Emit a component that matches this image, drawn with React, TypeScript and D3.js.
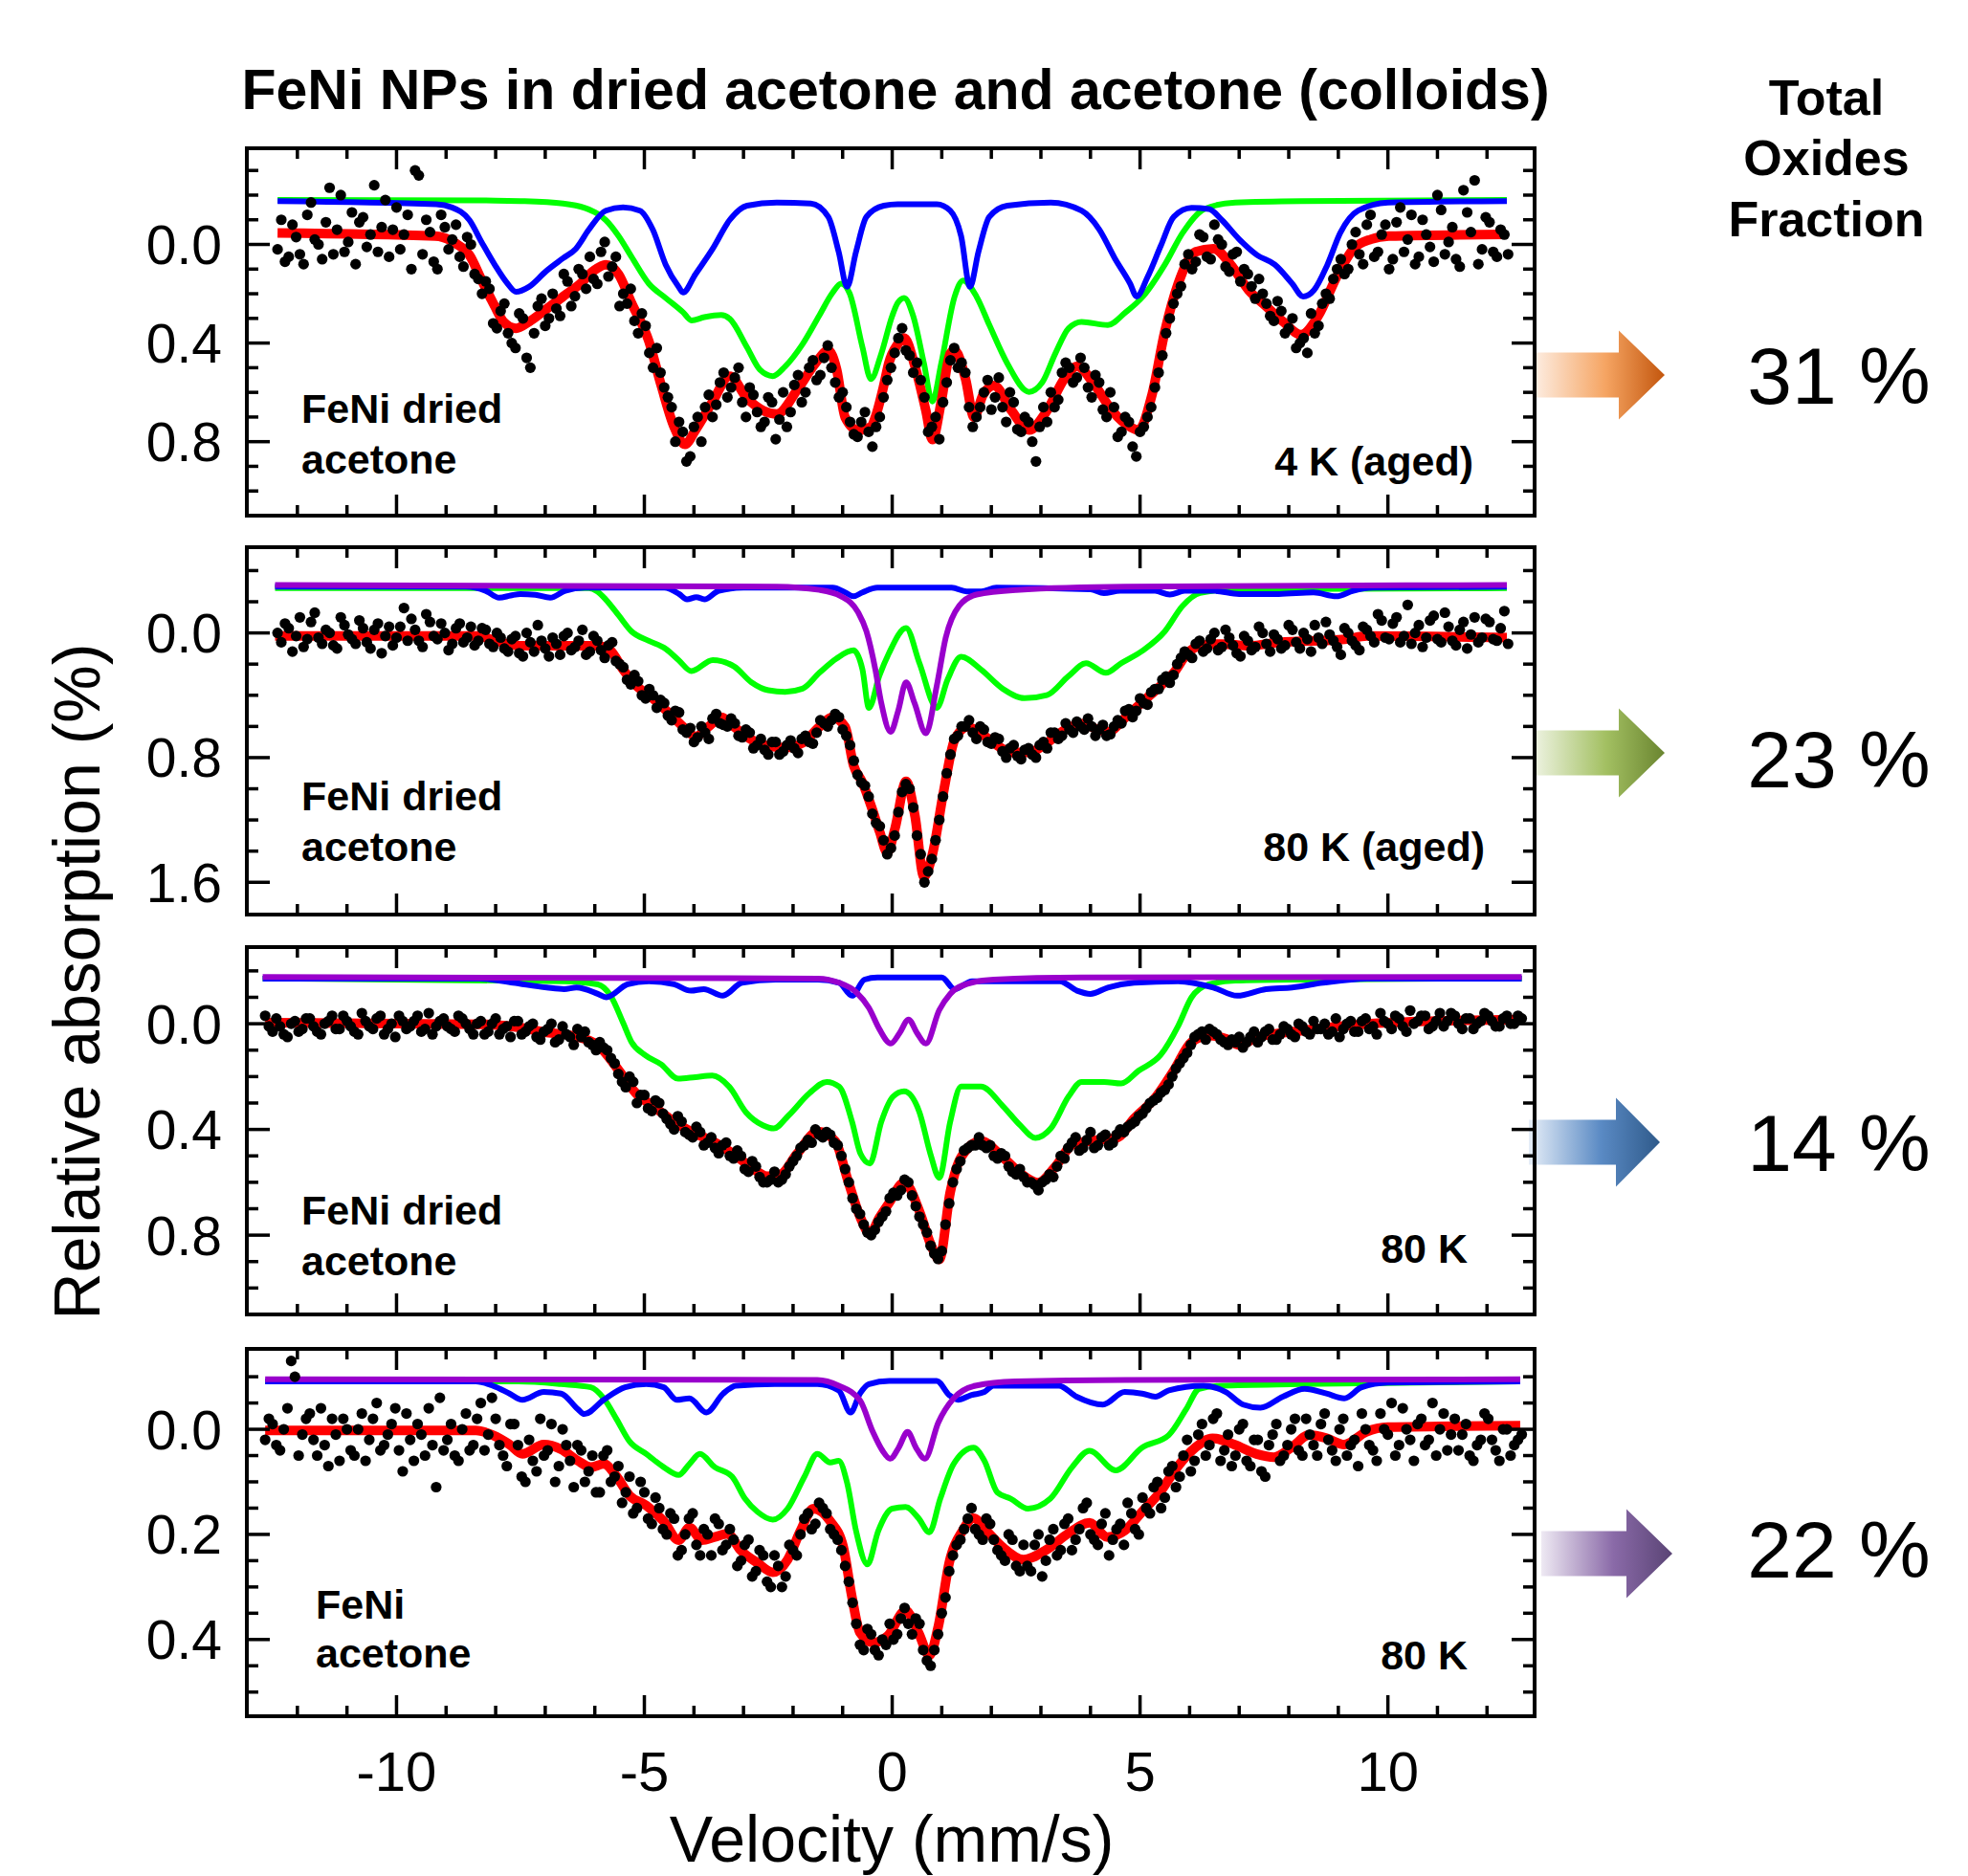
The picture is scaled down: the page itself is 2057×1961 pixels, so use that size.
import React from "react";
import * as d3 from "d3";

// Mössbauer spectra of FeNi NPs, four stacked panels sharing a velocity axis

const WIDTH = 2057,
  HEIGHT = 1961;
const FONT = "Liberation Sans, Arial, Helvetica, sans-serif";

const PLOT_LEFT = 258,
  PLOT_RIGHT = 1604,
  PANEL_H = 384;
const VEL_DOMAIN = [-13.02, 12.96];

const xMinorTicks = d3.range(-12, 13, 1);
const xMajorTicks = [-10, -5, 0, 5, 10];
const xTickLabels = ["-10", "-5", "0", "5", "10"];

const oxideFractions = ["31 %", "23 %", "14 %", "22 %"];

// ---------- panel 1 : FeNi dried acetone, 4 K (aged) ----------
const p1Points = [
  0.02, 0.07, -0.08, 0.04, -0.12, -0.02, 0.06, -0.23, -0.06, 0.03,
  -0.13, -0.09, 0.01, -0.24, -0.07, 0.05, -0.15, -0.04, 0.1, -0.28,
  -0.1, 0.07, -0.12, 0.02, -0.08, 0.09, 0.0, 0.14, 0.15, 0.32,
  0.27, 0.36, 0.42, 0.3, 0.5, 0.25, 0.33, 0.2, 0.29, 0.15,
  0.21, 0.12, 0.05, 0.16, -0.01, 0.09, 0.25, 0.24, 0.31, 0.28,
  0.44, 0.42, 0.58, 0.66, 0.72, 0.88, 0.74, 0.8, 0.61, 0.65,
  0.52, 0.58, 0.5, 0.7, 0.61, 0.74, 0.62, 0.79, 0.6, 0.68,
  0.53, 0.6, 0.47, 0.53, 0.41, 0.56, 0.6, 0.72, 0.78, 0.68,
  0.82, 0.7, 0.55, 0.44, 0.34, 0.45, 0.48, 0.62, 0.74, 0.79,
  0.56, 0.42, 0.48, 0.66, 0.7, 0.6, 0.67, 0.54, 0.72, 0.64,
  0.76, 0.72, 0.88, 0.66, 0.6, 0.63, 0.48, 0.56, 0.46, 0.58,
  0.53, 0.67, 0.6, 0.78, 0.7, 0.82, 0.76, 0.7, 0.58, 0.45,
  0.3, 0.2, 0.08, 0.1, -0.04, 0.05, -0.08, 0.0, 0.11, 0.03,
  0.1, 0.17, 0.14, 0.24, 0.31, 0.27, 0.34, 0.42, 0.38, 0.28,
  0.33, 0.2, 0.14, 0.06, 0.1, -0.05, 0.08, -0.12, 0.03, -0.08,
  0.06, -0.15, -0.02, 0.08, -0.1, 0.01, -0.2, 0.04, -0.07, 0.09,
  -0.13, -0.26, 0.02, -0.09, 0.05, -0.04,
];
// second run of channels, offset by half a step
const p1PointsB = [
  -0.1, 0.05, -0.03, 0.08, -0.17, 0.0, -0.09, 0.04, -0.2, -0.01,
  0.08, -0.11, -0.04, 0.03, -0.18, -0.06, 0.02, -0.12, -0.3, 0.04,
  -0.05, 0.1, -0.07, -0.02, 0.05, -0.03, 0.12, 0.2, 0.18, 0.34,
  0.24, 0.4, 0.28, 0.46, 0.36, 0.22, 0.3, 0.26, 0.12, 0.25,
  0.1, 0.18, 0.14, 0.03, 0.13, 0.05, 0.2, 0.18, 0.36, 0.33,
  0.5, 0.52, 0.62, 0.8, 0.76, 0.86, 0.7, 0.66, 0.7, 0.56,
  0.62, 0.54, 0.64, 0.58, 0.68, 0.72, 0.64, 0.71, 0.74, 0.57,
  0.64, 0.5, 0.55, 0.46, 0.5, 0.62, 0.66, 0.77, 0.72, 0.76,
  0.74, 0.62, 0.5, 0.38, 0.43, 0.52, 0.55, 0.76, 0.7, 0.64,
  0.47, 0.5, 0.52, 0.74, 0.66, 0.55, 0.62, 0.66, 0.6, 0.75,
  0.7, 0.8, 0.74, 0.72, 0.66, 0.52, 0.5, 0.54, 0.5, 0.62,
  0.56, 0.7, 0.66, 0.76, 0.72, 0.86, 0.74, 0.66, 0.52, 0.36,
  0.24, 0.17, 0.04, 0.07, -0.03, 0.06, -0.02, 0.09, 0.04, 0.15,
  0.12, 0.22, 0.2, 0.29, 0.23, 0.36, 0.3, 0.4, 0.44, 0.36,
  0.24, 0.22, 0.1, 0.12, 0.0, 0.04, -0.08, 0.05, -0.04, 0.1,
  -0.09, 0.03, -0.12, 0.05, -0.04, 0.07, -0.14, -0.01, 0.06, -0.22,
  -0.05, 0.08, -0.11, 0.03, -0.06, 0.04,
];
const p1Fit = [
  [-12.4, -0.047], [-9.22, -0.034], [-8.79, -0.002], [-8.53, 0.043], [-8.28, 0.146],
  [-8.02, 0.25], [-7.84, 0.314], [-7.59, 0.34], [-7.33, 0.314], [-6.98, 0.263],
  [-6.64, 0.211], [-6.29, 0.159], [-6.03, 0.108], [-5.78, 0.082], [-5.52, 0.121],
  [-5.26, 0.237], [-4.91, 0.392], [-4.66, 0.572], [-4.4, 0.74], [-4.18, 0.811],
  [-3.97, 0.753], [-3.62, 0.637], [-3.28, 0.534], [-2.93, 0.624], [-2.59, 0.675],
  [-2.33, 0.688], [-1.9, 0.585], [-1.55, 0.482], [-1.29, 0.43], [-1.12, 0.508],
  [-0.95, 0.701], [-0.69, 0.753], [-0.43, 0.74], [-0.34, 0.7], [-0.17, 0.572],
  [-0.07, 0.482], [0.11, 0.405], [0.24, 0.379], [0.46, 0.495], [0.68, 0.675],
  [0.81, 0.792], [0.99, 0.637], [1.17, 0.443], [1.26, 0.43], [1.48, 0.546],
  [1.65, 0.701], [1.83, 0.611], [2.05, 0.572], [2.41, 0.675], [2.76, 0.753],
  [3.12, 0.675], [3.47, 0.546], [3.73, 0.495], [4.09, 0.572], [4.44, 0.675],
  [4.8, 0.74], [4.97, 0.753], [5.24, 0.611], [5.5, 0.353], [5.77, 0.159],
  [6.12, 0.03], [6.48, 0.017], [6.83, 0.082], [7.19, 0.185], [7.54, 0.25],
  [7.89, 0.314], [8.25, 0.366], [8.6, 0.288], [8.96, 0.134], [9.31, 0.017],
  [9.66, -0.021], [10.02, -0.034], [12.4, -0.041],
];
const p1Blue = [
  [-12.4, -0.176], [-9.2, -0.163], [-8.88, -0.15], [-8.53, -0.099], [-8.28, -0.008],
  [-8.02, 0.082], [-7.76, 0.159], [-7.59, 0.192], [-7.33, 0.172], [-6.98, 0.108],
  [-6.64, 0.056], [-6.38, 0.017], [-6.12, -0.06], [-5.78, -0.137], [-5.43, -0.15],
  [-5.09, -0.137], [-4.83, -0.06], [-4.57, 0.082], [-4.31, 0.172], [-4.22, 0.195],
  [-3.97, 0.121], [-3.62, 0.017], [-3.28, -0.099], [-2.93, -0.157], [-2.33, -0.17],
  [-1.64, -0.166], [-1.29, -0.112], [-1.08, 0.03], [-0.91, 0.172], [-0.73, 0.03],
  [-0.52, -0.112], [-0.17, -0.157], [0.11, -0.163], [0.9, -0.163], [1.17, -0.137],
  [1.39, -0.034], [1.57, 0.172], [1.74, 0.03], [1.96, -0.112], [2.32, -0.157],
  [3.2, -0.17], [3.82, -0.137], [4.18, -0.06], [4.49, 0.056], [4.8, 0.159],
  [4.93, 0.211], [5.15, 0.133], [5.42, 0.005], [5.68, -0.112], [6.04, -0.148],
  [6.39, -0.144], [6.65, -0.099], [7.0, -0.021], [7.36, 0.043], [7.72, 0.082],
  [8.07, 0.159], [8.29, 0.211], [8.51, 0.185], [8.78, 0.082], [9.04, -0.047],
  [9.4, -0.137], [10.0, -0.17], [12.4, -0.176],
];
const p1Green = [
  [-12.4, -0.18], [-8.0, -0.178], [-7.5, -0.176], [-6.64, -0.166], [-6.2, -0.148],
  [-5.95, -0.125], [-5.78, -0.099], [-5.52, -0.034], [-5.26, 0.05], [-4.91, 0.159],
  [-4.57, 0.217], [-4.22, 0.275], [-4.05, 0.308], [-3.79, 0.295], [-3.45, 0.286],
  [-3.28, 0.301], [-2.93, 0.417], [-2.67, 0.508], [-2.41, 0.534], [-2.16, 0.495],
  [-1.81, 0.405], [-1.47, 0.288], [-1.21, 0.198], [-1.03, 0.159], [-0.86, 0.198],
  [-0.6, 0.417], [-0.43, 0.546], [-0.22, 0.443], [0.0, 0.29], [0.11, 0.237],
  [0.24, 0.217], [0.42, 0.288], [0.64, 0.482], [0.81, 0.637], [0.99, 0.482],
  [1.26, 0.211], [1.43, 0.146], [1.7, 0.211], [1.96, 0.327], [2.32, 0.482],
  [2.76, 0.598], [3.03, 0.559], [3.29, 0.443], [3.56, 0.34], [3.82, 0.314],
  [4.35, 0.327], [4.71, 0.275], [5.06, 0.211], [5.5, 0.082], [5.86, -0.047],
  [6.3, -0.144], [6.92, -0.17], [8.25, -0.176], [12.4, -0.18],
];

// ---------- panel 2 : FeNi dried acetone, 80 K (aged) ----------
const p2Points = [
  0.0, -0.06, 0.12, -0.1, 0.04, -0.13, 0.07, 0.0, 0.1, -0.05,
  0.04, -0.08, 0.06, -0.02, 0.13, -0.04, 0.03, -0.16, -0.09, 0.05,
  -0.12, 0.02, -0.06, 0.11, -0.03, 0.06, -0.04, 0.05, -0.02, 0.09,
  0.03, 0.12, 0.02, 0.15, 0.06, -0.05, 0.1, 0.03, 0.14, 0.0,
  0.09, -0.02, 0.12, 0.05, 0.16, 0.06, 0.2, 0.3, 0.27, 0.4,
  0.36, 0.48, 0.45, 0.56, 0.51, 0.64, 0.7, 0.6, 0.68, 0.52,
  0.59, 0.55, 0.66, 0.62, 0.74, 0.68, 0.78, 0.7, 0.76, 0.69,
  0.77, 0.66, 0.71, 0.56, 0.6, 0.52, 0.62, 0.72, 0.91, 0.98,
  1.16, 1.24, 1.42, 1.3, 1.02, 1.0, 1.3, 1.6, 1.45, 1.2,
  0.9, 0.68, 0.6, 0.56, 0.68, 0.62, 0.71, 0.68, 0.8, 0.72,
  0.81, 0.74, 0.8, 0.7, 0.64, 0.68, 0.58, 0.64, 0.6, 0.55,
  0.66, 0.59, 0.65, 0.56, 0.5, 0.54, 0.42, 0.46, 0.36, 0.3,
  0.32, 0.2, 0.12, 0.16, 0.05, 0.1, 0.0, 0.09, 0.03, 0.13,
  0.02, 0.11, -0.04, 0.07, 0.01, 0.1, -0.05, 0.06, 0.0, 0.12,
  0.03, -0.07, 0.05, 0.14, 0.0, 0.08, -0.04, 0.02, -0.12, 0.03,
  -0.06, 0.06, -0.18, 0.0, 0.09, -0.08, 0.04, -0.13, 0.05, -0.02,
  0.1, -0.1, 0.03, -0.07, 0.05, -0.14,
];
const p2PointsB = [
  0.06, -0.03, 0.02, 0.09, -0.07, 0.03, -0.02, 0.08, -0.1, 0.01,
  0.07, -0.03, 0.1, -0.06, 0.02, 0.08, -0.04, 0.05, -0.02, 0.09,
  -0.07, 0.04, 0.0, 0.07, -0.06, 0.03, 0.08, -0.03, 0.07, 0.0,
  0.1, 0.04, 0.13, 0.0, 0.12, 0.05, 0.15, 0.07, 0.02, 0.11,
  0.05, 0.14, 0.02, 0.11, 0.08, 0.18, 0.22, 0.33, 0.31, 0.42,
  0.4, 0.43, 0.53, 0.5, 0.62, 0.61, 0.67, 0.64, 0.55, 0.58,
  0.6, 0.58, 0.67, 0.64, 0.72, 0.75, 0.7, 0.78, 0.72, 0.74,
  0.68, 0.7, 0.64, 0.58, 0.56, 0.54, 0.66, 0.82, 0.96, 1.05,
  1.22, 1.33, 1.38, 1.15, 0.97, 1.12, 1.42, 1.53, 1.33, 1.05,
  0.78, 0.66, 0.6, 0.64, 0.6, 0.7, 0.67, 0.76, 0.74, 0.79,
  0.75, 0.78, 0.72, 0.74, 0.64, 0.66, 0.62, 0.57, 0.62, 0.6,
  0.62, 0.66, 0.6, 0.58, 0.49, 0.5, 0.45, 0.38, 0.36, 0.28,
  0.27, 0.16, 0.14, 0.07, 0.12, 0.04, 0.11, -0.02, 0.08, 0.15,
  0.05, 0.09, 0.0, 0.12, 0.04, 0.08, -0.02, 0.1, 0.04, -0.05,
  0.07, 0.01, 0.09, -0.03, 0.05, 0.11, -0.02, 0.06, -0.08, 0.04,
  -0.1, 0.02, 0.07, -0.05, 0.03, -0.11, 0.06, -0.04, 0.08, -0.07,
  0.01, 0.06, -0.09, 0.04, -0.03, 0.07,
];
const p2Fit = [
  [-12.45, 0.02], [-8.36, 0.02], [-8.0, 0.051], [-7.5, 0.082], [-5.95, 0.082],
  [-5.69, 0.112], [-5.43, 0.235], [-5.17, 0.337], [-4.91, 0.399], [-4.48, 0.521],
  [-4.14, 0.624], [-3.97, 0.665], [-3.71, 0.603], [-3.45, 0.541], [-3.19, 0.603],
  [-2.84, 0.685], [-2.5, 0.726], [-2.16, 0.736], [-1.81, 0.706], [-1.47, 0.603],
  [-1.21, 0.541], [-0.95, 0.603], [-0.78, 0.849], [-0.6, 0.96], [-0.42, 1.115],
  [-0.25, 1.279], [-0.1, 1.41], [0.06, 1.25], [0.28, 0.952], [0.46, 1.176],
  [0.64, 1.565], [0.81, 1.422], [1.04, 1.013], [1.26, 0.685], [1.52, 0.603],
  [1.79, 0.644], [2.05, 0.706], [2.41, 0.767], [2.76, 0.767], [3.12, 0.706],
  [3.47, 0.624], [3.82, 0.582], [4.18, 0.624], [4.35, 0.634], [4.71, 0.541],
  [5.06, 0.44], [5.42, 0.337], [5.68, 0.256], [5.95, 0.133], [6.21, 0.082],
  [6.65, 0.071], [7.19, 0.082], [7.8, 0.061], [9.13, 0.041], [9.58, 0.02],
  [12.4, 0.03],
];
const p2Blue = [
  [-12.45, -0.297], [-8.6, -0.297], [-8.2, -0.27], [-7.93, -0.226], [-7.7, -0.24],
  [-7.5, -0.25], [-7.2, -0.245], [-6.9, -0.226], [-6.6, -0.27], [-6.2, -0.29],
  [-4.6, -0.29], [-4.3, -0.25], [-4.14, -0.215], [-3.95, -0.23], [-3.79, -0.215],
  [-3.5, -0.27], [-3.0, -0.29], [-1.2, -0.29], [-0.95, -0.26], [-0.78, -0.235],
  [-0.6, -0.26], [-0.3, -0.29], [1.2, -0.29], [1.5, -0.266], [1.8, -0.266],
  [2.1, -0.29], [4.0, -0.28], [4.27, -0.256], [4.6, -0.27], [5.3, -0.27],
  [5.6, -0.246], [5.9, -0.27], [6.5, -0.27], [7.0, -0.25], [7.8, -0.25],
  [8.5, -0.26], [8.96, -0.235], [9.3, -0.27], [9.7, -0.29], [12.4, -0.297],
];
const p2Green = [
  [-12.45, -0.287], [-6.12, -0.287], [-5.95, -0.266], [-5.78, -0.215], [-5.52, -0.113],
  [-5.26, -0.01], [-4.91, 0.051], [-4.57, 0.102], [-4.31, 0.174], [-4.05, 0.245],
  [-3.62, 0.174], [-3.19, 0.215], [-2.84, 0.317], [-2.5, 0.368], [-2.16, 0.378],
  [-1.81, 0.358], [-1.47, 0.256], [-1.12, 0.163], [-0.78, 0.112], [-0.6, 0.235],
  [-0.47, 0.481], [-0.26, 0.276], [-0.07, 0.133], [0.28, -0.031], [0.55, 0.194],
  [0.9, 0.481], [1.12, 0.297], [1.39, 0.153], [1.79, 0.235], [2.23, 0.358],
  [2.67, 0.419], [3.12, 0.399], [3.56, 0.276], [3.91, 0.194], [4.31, 0.256],
  [4.62, 0.194], [5.06, 0.112], [5.5, -0.01], [5.86, -0.174], [6.21, -0.256],
  [6.92, -0.28], [12.4, -0.287],
];
const p2Purple = [
  [-12.45, -0.307], [-2.33, -0.297], [-1.47, -0.276], [-1.03, -0.235], [-0.69, -0.133],
  [-0.52, -0.01], [-0.34, 0.235], [-0.22, 0.45], [-0.03, 0.634], [0.12, 0.5],
  [0.28, 0.317], [0.45, 0.45], [0.68, 0.644], [0.9, 0.338], [1.08, 0.03],
  [1.35, -0.174], [1.7, -0.246], [2.5, -0.276], [4.7, -0.297], [12.4, -0.307],
];

// ---------- panel 3 : FeNi dried acetone, 80 K ----------
const p3Points = [
  -0.03, 0.03, 0.01, 0.05, -0.01, 0.02, -0.02, 0.03, 0.0, -0.03,
  0.02, -0.01, 0.03, -0.04, 0.01, -0.02, 0.04, 0.0, -0.03, 0.02,
  -0.01, 0.03, -0.04, 0.01, -0.02, 0.02, -0.03, 0.0, 0.04, -0.01,
  0.03, -0.02, 0.02, 0.05, -0.01, 0.03, 0.0, 0.06, 0.02, 0.07,
  0.01, 0.05, 0.02, 0.03, 0.08, 0.07, 0.1, 0.15, 0.22, 0.2,
  0.3, 0.27, 0.33, 0.3, 0.36, 0.4, 0.37, 0.42, 0.39, 0.46,
  0.43, 0.49, 0.45, 0.51, 0.5, 0.56, 0.54, 0.6, 0.59, 0.6,
  0.57, 0.52, 0.47, 0.44, 0.4, 0.43, 0.42, 0.46, 0.55, 0.66,
  0.72, 0.79, 0.78, 0.73, 0.66, 0.65, 0.59, 0.65, 0.73, 0.79,
  0.87, 0.86, 0.68, 0.55, 0.48, 0.46, 0.43, 0.47, 0.5, 0.49,
  0.54, 0.57, 0.58, 0.6, 0.63, 0.59, 0.58, 0.5, 0.47, 0.43,
  0.47, 0.41, 0.46, 0.42, 0.45, 0.4, 0.39, 0.37, 0.34, 0.3,
  0.28, 0.25, 0.2, 0.15, 0.11, 0.05, 0.03, 0.02, 0.04, 0.07,
  0.06, 0.05, 0.07, 0.03, 0.05, 0.02, 0.06, 0.01, 0.04, 0.0,
  0.03, -0.01, 0.02, 0.04, -0.02, 0.02, -0.01, 0.03, -0.02, 0.01,
  -0.04, 0.0, -0.03, 0.01, -0.05, -0.01, -0.03, 0.01, -0.04, -0.01,
  -0.03, 0.02, -0.02, 0.0, -0.04, -0.01, 0.01, -0.03, 0.0, -0.02,
];
const p3PointsB = [
  0.01, -0.02, 0.04, 0.0, 0.03, -0.02, 0.01, 0.04, -0.01, 0.02,
  -0.03, 0.01, 0.04, -0.01, 0.02, -0.03, 0.02, 0.05, -0.01, 0.01,
  -0.03, 0.02, 0.04, -0.01, 0.01, 0.03, -0.02, 0.02, 0.0, 0.04,
  0.0, 0.04, 0.01, -0.01, 0.04, 0.01, 0.05, 0.03, 0.0, 0.06,
  0.04, 0.08, 0.05, 0.07, 0.1, 0.09, 0.13, 0.19, 0.24, 0.22,
  0.27, 0.32, 0.29, 0.34, 0.38, 0.35, 0.41, 0.43, 0.41, 0.45,
  0.47, 0.46, 0.5, 0.48, 0.55, 0.52, 0.58, 0.6, 0.56, 0.59,
  0.54, 0.5, 0.46, 0.45, 0.42, 0.41, 0.45, 0.5, 0.6, 0.7,
  0.76, 0.8, 0.75, 0.71, 0.64, 0.63, 0.6, 0.69, 0.76, 0.84,
  0.89, 0.76, 0.6, 0.52, 0.47, 0.46, 0.46, 0.46, 0.51, 0.5,
  0.56, 0.55, 0.6, 0.61, 0.6, 0.57, 0.54, 0.51, 0.45, 0.48,
  0.44, 0.47, 0.43, 0.46, 0.42, 0.41, 0.38, 0.35, 0.32, 0.29,
  0.26, 0.23, 0.17, 0.13, 0.08, 0.04, 0.06, 0.03, 0.06, 0.08,
  0.07, 0.09, 0.05, 0.07, 0.03, 0.06, 0.04, 0.02, 0.05, 0.01,
  0.04, 0.02, 0.0, 0.03, 0.05, 0.0, 0.03, -0.01, 0.02, 0.04,
  -0.01, 0.02, -0.02, 0.03, 0.0, -0.03, 0.02, -0.01, 0.01, -0.04,
  0.0, -0.02, 0.02, -0.01, -0.03, 0.01, -0.02, 0.0, -0.03,
];
const p3Fit = [
  [-12.65, -0.004], [-8.3, 0.002], [-7.48, 0.015], [-6.97, 0.033], [-6.45, 0.045],
  [-5.94, 0.081], [-5.51, 0.178], [-5.17, 0.263], [-4.83, 0.311], [-4.49, 0.359],
  [-4.06, 0.408], [-3.63, 0.444], [-3.21, 0.492], [-2.86, 0.541], [-2.52, 0.577],
  [-2.26, 0.571], [-1.92, 0.492], [-1.5, 0.408], [-1.15, 0.444], [-0.9, 0.589],
  [-0.64, 0.734], [-0.45, 0.795], [-0.26, 0.734], [-0.07, 0.68], [0.24, 0.601],
  [0.55, 0.71], [0.77, 0.831], [0.95, 0.892], [1.17, 0.638], [1.39, 0.505],
  [1.79, 0.444], [2.23, 0.505], [2.58, 0.565], [2.94, 0.601], [3.29, 0.541],
  [3.65, 0.456], [4.0, 0.444], [4.53, 0.432], [4.88, 0.359], [5.33, 0.275],
  [5.68, 0.178], [6.04, 0.069], [6.39, 0.045], [6.74, 0.057], [7.0, 0.081],
  [7.36, 0.051], [8.25, 0.027], [9.13, 0.008], [10.0, -0.004], [12.67, -0.016],
];
const p3Blue = [
  [-12.7, -0.171], [-8.33, -0.171], [-7.65, -0.155], [-6.97, -0.137], [-6.62, -0.131],
  [-6.37, -0.137], [-5.94, -0.113], [-5.77, -0.1], [-5.34, -0.149], [-4.91, -0.161],
  [-4.4, -0.149], [-4.06, -0.125], [-3.8, -0.131], [-3.42, -0.106], [-3.03, -0.155],
  [-2.35, -0.167], [-1.5, -0.167], [-1.07, -0.155], [-0.81, -0.106], [-0.56, -0.167],
  [-0.3, -0.175], [1.0, -0.175], [1.26, -0.131], [1.61, -0.161], [3.38, -0.161],
  [3.73, -0.125], [4.0, -0.113], [4.35, -0.137], [4.88, -0.155], [5.77, -0.161],
  [6.48, -0.137], [6.96, -0.106], [7.54, -0.131], [8.07, -0.137], [8.69, -0.155],
  [9.58, -0.171], [12.7, -0.171],
];
const p3Green = [
  [-12.7, -0.171], [-6.62, -0.161], [-5.94, -0.149], [-5.68, -0.106], [-5.43, -0.004],
  [-5.26, 0.069], [-5.0, 0.117], [-4.66, 0.154], [-4.32, 0.208], [-3.97, 0.202],
  [-3.63, 0.196], [-3.29, 0.238], [-2.95, 0.335], [-2.61, 0.384], [-2.39, 0.396],
  [-2.09, 0.347], [-1.67, 0.263], [-1.32, 0.22], [-1.07, 0.238], [-0.81, 0.371],
  [-0.64, 0.492], [-0.45, 0.529], [-0.22, 0.371], [0.02, 0.275], [0.24, 0.256],
  [0.55, 0.335], [0.77, 0.492], [0.95, 0.583], [1.17, 0.371], [1.39, 0.238],
  [1.79, 0.238], [2.23, 0.311], [2.58, 0.384], [2.89, 0.432], [3.2, 0.396],
  [3.56, 0.275], [3.82, 0.22], [4.27, 0.22], [4.62, 0.226], [4.97, 0.178],
  [5.42, 0.117], [5.77, 0.008], [6.04, -0.1], [6.39, -0.149], [6.92, -0.163],
  [8.25, -0.167], [12.7, -0.171],
];
const p3Purple = [
  [-12.7, -0.177], [-1.5, -0.171], [-1.07, -0.155], [-0.73, -0.12], [-0.47, -0.06],
  [-0.26, 0.02], [-0.03, 0.075], [0.15, 0.035], [0.33, -0.016], [0.5, 0.035],
  [0.68, 0.075], [0.95, -0.052], [1.17, -0.113], [1.52, -0.151], [2.05, -0.167],
  [3.82, -0.175], [12.7, -0.177],
];

// ---------- panel 4 : FeNi acetone, 80 K ----------
const p4Points = [
  0.02, -0.01, 0.04, -0.04, -0.1, 0.01, -0.03, 0.05, 0.03, -0.02,
  0.06, 0.0, 0.05, -0.03, 0.02, -0.05, 0.03, -0.01, 0.04, -0.03,
  0.06, 0.01, -0.04, 0.11, 0.04, -0.01, 0.06, -0.03, 0.03, -0.05,
  0.01, -0.02, 0.05, -0.01, 0.03, 0.1, 0.06, -0.02, 0.04, 0.1,
  0.0, 0.06, 0.03, 0.1, 0.05, 0.12, 0.04, 0.09, 0.14, 0.09,
  0.15, 0.12, 0.18, 0.15, 0.2, 0.17, 0.23, 0.17, 0.22, 0.19,
  0.24, 0.18, 0.22, 0.21, 0.25, 0.21, 0.27, 0.24, 0.3, 0.26,
  0.28, 0.23, 0.2, 0.16, 0.18, 0.15, 0.19, 0.21, 0.26, 0.33,
  0.41, 0.38, 0.42, 0.4, 0.37, 0.39, 0.34, 0.39, 0.37, 0.44,
  0.42, 0.35, 0.27, 0.22, 0.19, 0.15, 0.2, 0.17, 0.21, 0.24,
  0.2, 0.26, 0.22, 0.27, 0.2, 0.25, 0.19, 0.23, 0.17, 0.21,
  0.15, 0.2, 0.22, 0.16, 0.21, 0.18, 0.14, 0.19, 0.13, 0.16,
  0.1, 0.13, 0.07, 0.09, 0.02, 0.06, -0.01, 0.03, -0.03, 0.04,
  0.07, 0.0, 0.06, 0.02, 0.08, 0.03, -0.01, 0.05, 0.0, 0.04,
  -0.02, 0.03, -0.01, 0.02, 0.06, -0.02, 0.03, 0.07, 0.0, 0.04,
  -0.03, 0.01, 0.05, -0.04, 0.02, -0.01, 0.03, -0.05, 0.0, 0.04,
  -0.02, 0.01, 0.05, 0.03, -0.03, 0.02, 0.06, 0.0, 0.03, 0.01,
];
const p4PointsB = [
  -0.02, 0.03, 0.0, -0.13, 0.05, -0.02, 0.02, -0.04, 0.07, 0.01,
  -0.02, 0.04, 0.0, 0.06, -0.02, 0.04, 0.01, -0.04, 0.08, 0.02,
  -0.01, 0.05, 0.03, -0.06, 0.02, 0.05, 0.0, 0.04, -0.02, 0.04,
  -0.06, 0.03, 0.07, -0.01, 0.09, 0.02, 0.08, 0.05, -0.01, 0.07,
  0.03, 0.11, 0.04, 0.08, 0.12, 0.05, 0.1, 0.07, 0.12, 0.16,
  0.1, 0.17, 0.13, 0.19, 0.16, 0.24, 0.2, 0.16, 0.24, 0.2,
  0.17, 0.23, 0.19, 0.26, 0.22, 0.28, 0.23, 0.29, 0.24, 0.3,
  0.22, 0.24, 0.17, 0.19, 0.14, 0.16, 0.2, 0.23, 0.29, 0.37,
  0.42, 0.39, 0.43, 0.41, 0.4, 0.36, 0.37, 0.36, 0.42, 0.45,
  0.39, 0.32, 0.24, 0.21, 0.17, 0.19, 0.21, 0.18, 0.23, 0.25,
  0.21, 0.27, 0.26, 0.22, 0.28, 0.21, 0.24, 0.18, 0.23, 0.19,
  0.14, 0.21, 0.18, 0.24, 0.19, 0.22, 0.16, 0.2, 0.15, 0.11,
  0.15, 0.08, 0.11, 0.05, 0.08, 0.01, 0.05, -0.02, 0.06, 0.01,
  0.05, -0.01, 0.07, 0.02, 0.09, 0.01, 0.06, 0.03, -0.02, 0.05,
  0.01, 0.05, -0.03, 0.04, 0.0, 0.05, 0.02, -0.03, 0.03, 0.06,
  0.0, -0.05, 0.03, 0.0, 0.06, -0.02, 0.02, 0.05, -0.03, 0.01,
  0.04, -0.01, 0.06, 0.02, -0.02, 0.04, 0.0, 0.05, 0.02,
];
const p4Fit = [
  [-12.65, 0.002], [-8.4, 0.002], [-8.06, 0.011], [-7.72, 0.029], [-7.46, 0.047],
  [-7.03, 0.029], [-6.68, 0.038], [-6.34, 0.06], [-6.08, 0.072], [-5.82, 0.066],
  [-5.56, 0.09], [-5.3, 0.126], [-4.96, 0.145], [-4.61, 0.175], [-4.31, 0.211],
  [-4.09, 0.187], [-3.84, 0.211], [-3.58, 0.205], [-3.32, 0.199], [-3.06, 0.23],
  [-2.72, 0.254], [-2.41, 0.272], [-2.11, 0.248], [-1.85, 0.193], [-1.59, 0.151],
  [-1.25, 0.175], [-0.99, 0.223], [-0.82, 0.315], [-0.65, 0.387], [-0.39, 0.406],
  [-0.09, 0.393], [0.27, 0.345], [0.53, 0.387], [0.75, 0.43], [0.93, 0.375],
  [1.15, 0.254], [1.42, 0.193], [1.64, 0.169], [1.9, 0.193], [2.21, 0.223],
  [2.65, 0.248], [3.1, 0.23], [3.54, 0.199], [3.98, 0.178], [4.34, 0.205],
  [4.69, 0.193], [5.04, 0.157], [5.4, 0.12], [5.75, 0.072], [6.11, 0.035],
  [6.46, 0.017], [6.9, 0.029], [7.35, 0.047], [7.7, 0.053], [8.05, 0.035],
  [8.41, 0.011], [8.76, 0.017], [9.12, 0.029], [9.56, 0.005], [10.0, -0.004],
  [12.67, -0.007],
];
const p4Blue = [
  [-12.65, -0.091], [-8.4, -0.091], [-8.06, -0.083], [-7.72, -0.068], [-7.46, -0.056],
  [-7.03, -0.071], [-6.68, -0.068], [-6.34, -0.038], [-6.21, -0.029], [-5.82, -0.056],
  [-5.39, -0.08], [-4.96, -0.086], [-4.61, -0.08], [-4.35, -0.056], [-4.09, -0.059],
  [-3.75, -0.032], [-3.41, -0.068], [-3.15, -0.083], [-2.37, -0.086], [-1.51, -0.086],
  [-1.08, -0.074], [-0.84, -0.032], [-0.65, -0.068], [-0.47, -0.086], [-0.06, -0.092],
  [0.9, -0.092], [1.15, -0.065], [1.33, -0.056], [1.59, -0.065], [1.86, -0.071],
  [2.04, -0.083], [3.36, -0.083], [3.72, -0.062], [4.25, -0.047], [4.69, -0.071],
  [5.04, -0.068], [5.31, -0.062], [5.58, -0.074], [6.28, -0.083], [6.73, -0.071],
  [7.08, -0.047], [7.43, -0.041], [7.88, -0.062], [8.32, -0.077], [8.76, -0.068],
  [9.12, -0.059], [9.47, -0.08], [10.0, -0.089], [12.67, -0.091],
];
const p4Green = [
  [-12.65, -0.091], [-7.54, -0.091], [-6.68, -0.086], [-6.08, -0.08], [-5.82, -0.059],
  [-5.56, -0.019], [-5.3, 0.023], [-4.96, 0.047], [-4.61, 0.072], [-4.31, 0.087],
  [-4.09, 0.066], [-3.88, 0.047], [-3.58, 0.072], [-3.23, 0.09], [-2.97, 0.132],
  [-2.72, 0.157], [-2.41, 0.172], [-2.11, 0.151], [-1.77, 0.09], [-1.51, 0.047],
  [-1.25, 0.063], [-1.08, 0.06], [-0.91, 0.102], [-0.73, 0.193], [-0.5, 0.257],
  [-0.28, 0.193], [0.0, 0.151], [0.27, 0.148], [0.53, 0.169], [0.75, 0.196],
  [0.97, 0.132], [1.24, 0.066], [1.64, 0.035], [1.86, 0.06], [2.12, 0.12],
  [2.39, 0.132], [2.74, 0.151], [3.19, 0.132], [3.63, 0.072], [3.98, 0.041],
  [4.51, 0.078], [5.04, 0.035], [5.58, 0.011], [5.93, -0.038], [6.19, -0.077],
  [6.64, -0.083], [8.23, -0.086], [12.67, -0.091],
];
const p4Purple = [
  [-12.65, -0.095], [-1.51, -0.094], [-1.08, -0.083], [-0.65, -0.055], [-0.39, 0.005],
  [-0.2, 0.04], [-0.04, 0.056], [0.13, 0.035], [0.31, 0.005], [0.48, 0.035],
  [0.66, 0.056], [0.93, -0.013], [1.24, -0.059], [1.68, -0.083], [2.48, -0.091],
  [4.69, -0.094], [12.67, -0.095],
];

const panels = [
  {
    top: 155, yDomain: [-0.39, 1.1], yMinor: d3.range(-0.3, 1.05, 0.1), yMajor: [0, 0.4, 0.8],
    runs: [
      { vRange: [-12.4, 12.35], values: p1Points },
      { vRange: [-12.325, 12.425], values: p1PointsB },
    ],
    fit: p1Fit, blue: p1Blue, green: p1Green, purple: null,
    name: ["FeNi dried", "acetone"], nameX: 315, nameY: [442, 495],
    temp: "4 K (aged)", tempX: 1540, tempY: 497,
  },
  {
    top: 572, yDomain: [-0.55, 1.807], yMinor: d3.range(-0.4, 1.65, 0.2), yMajor: [0, 0.8, 1.6],
    runs: [
      { vRange: [-12.4, 12.35], values: p2Points },
      { vRange: [-12.325, 12.425], values: p2PointsB },
    ],
    fit: p2Fit, blue: p2Blue, green: p2Green, purple: p2Purple,
    name: ["FeNi dried", "acetone"], nameX: 315, nameY: [847, 900],
    temp: "80 K (aged)", tempX: 1552, tempY: 900,
  },
  {
    top: 990, yDomain: [-0.29, 1.1], yMinor: d3.range(-0.2, 1.05, 0.1), yMajor: [0, 0.4, 0.8],
    runs: [
      { vRange: [-12.65, 12.7], values: p3Points },
      { vRange: [-12.575, 12.625], values: p3PointsB },
    ],
    fit: p3Fit, blue: p3Blue, green: p3Green, purple: p3Purple,
    name: ["FeNi dried", "acetone"], nameX: 315, nameY: [1280, 1333],
    temp: "80 K", tempX: 1534, tempY: 1320,
  },
  {
    top: 1410, yDomain: [-0.153, 0.546], yMinor: d3.range(-0.1, 0.525, 0.05), yMajor: [0, 0.2, 0.4],
    runs: [
      { vRange: [-12.65, 12.7], values: p4Points },
      { vRange: [-12.575, 12.625], values: p4PointsB },
    ],
    fit: p4Fit, blue: p4Blue, green: p4Green, purple: p4Purple,
    name: ["FeNi", "acetone"], nameX: 330, nameY: [1692, 1743],
    temp: "80 K", tempX: 1534, tempY: 1745,
  },
];

const arrows = [
  { x0: 1603, xh: 1692, tip: 1740, cy: 392, colors: ["#fdeee3", "#f5a462", "#c3560d"] },
  { x0: 1603, xh: 1692, tip: 1740, cy: 787, colors: ["#eef3e2", "#a3c062", "#6a8530"] },
  { x0: 1598, xh: 1689, tip: 1735, cy: 1194, colors: ["#e6eef8", "#5a8ac4", "#2f5a8a"] },
  { x0: 1611, xh: 1700, tip: 1748, cy: 1624, colors: ["#eee9f3", "#8a6aa8", "#5a4475"] },
];
const pctY = [422, 823, 1224, 1649];

const x = d3.scaleLinear().domain(VEL_DOMAIN).range([PLOT_LEFT, PLOT_RIGHT]);

function Panel({ cfg, showXLabels }) {
  const bottom = cfg.top + PANEL_H;
  const y = d3.scaleLinear().domain(cfg.yDomain).range([cfg.top, bottom]);
  const line = d3
    .line()
    .x(d => x(d[0]))
    .y(d => y(d[1]))
    .curve(d3.curveMonotoneX);
  const isMajorY = v => cfg.yMajor.some(m => Math.abs(m - v) < 1e-6);
  const fmt = d3.format(".1f");

  return (
    <g>
      <path d={line(cfg.green)} fill="none" stroke="#00ff00" strokeWidth={6} />
      <path d={line(cfg.blue)} fill="none" stroke="#0000ff" strokeWidth={6} />
      {cfg.purple && <path d={line(cfg.purple)} fill="none" stroke="#9900cc" strokeWidth={6} />}
      <path d={line(cfg.fit)} fill="none" stroke="#ff0000" strokeWidth={10} strokeLinejoin="round" />
      {cfg.runs.map((run, r) => {
        const channel = d3
          .scaleLinear()
          .domain([0, run.values.length - 1])
          .range(run.vRange);
        return run.values.map((v, i) => (
          <circle key={r + "-" + i} cx={x(channel(i))} cy={y(v)} r={5.6} fill="#000" />
        ));
      })}

      <rect
        x={PLOT_LEFT}
        y={cfg.top}
        width={PLOT_RIGHT - PLOT_LEFT}
        height={PANEL_H}
        fill="none"
        stroke="#000"
        strokeWidth={4}
      />
      {xMinorTicks.map(t => {
        const len = xMajorTicks.includes(t) ? 22 : 11;
        return (
          <g key={"xt" + t} stroke="#000" strokeWidth={3.5}>
            <line x1={x(t)} x2={x(t)} y1={cfg.top} y2={cfg.top + len} />
            <line x1={x(t)} x2={x(t)} y1={bottom} y2={bottom - len} />
          </g>
        );
      })}
      {cfg.yMinor.map(t => {
        const len = isMajorY(t) ? 24 : 12;
        return (
          <g key={"yt" + t} stroke="#000" strokeWidth={3.5}>
            <line x1={PLOT_LEFT} x2={PLOT_LEFT + len} y1={y(t)} y2={y(t)} />
            <line x1={PLOT_RIGHT} x2={PLOT_RIGHT - len} y1={y(t)} y2={y(t)} />
          </g>
        );
      })}
      {cfg.yMajor.map(t => (
        <text
          key={"yl" + t}
          x={232}
          y={y(t)}
          dy="0.36em"
          textAnchor="end"
          fontSize={57}
          fontFamily={FONT}
        >
          {fmt(t)}
        </text>
      ))}
      {showXLabels &&
        xMajorTicks.map((t, i) => (
          <text key={"xl" + t} x={x(t)} y={1872} textAnchor="middle" fontSize={58} fontFamily={FONT}>
            {xTickLabels[i]}
          </text>
        ))}

      <text fontFamily={FONT} fontWeight="bold" fontSize={43}>
        <tspan x={cfg.nameX} y={cfg.nameY[0]}>
          {cfg.name[0]}
        </tspan>
        <tspan x={cfg.nameX} y={cfg.nameY[1]}>
          {cfg.name[1]}
        </tspan>
      </text>
      <text
        x={cfg.tempX}
        y={cfg.tempY}
        textAnchor="end"
        fontFamily={FONT}
        fontWeight="bold"
        fontSize={43}
      >
        {cfg.temp}
      </text>
    </g>
  );
}

export default function App() {
  return (
    <svg
      width={WIDTH}
      height={HEIGHT}
      style={{ position: "absolute", left: 0, top: 0, background: "#fff" }}
    >
      <defs>
        {arrows.map((a, i) => (
          <linearGradient key={i} id={"arrowGrad" + i} x1="0" x2="1" y1="0" y2="0">
            <stop offset="0%" stopColor={a.colors[0]} />
            <stop offset="55%" stopColor={a.colors[1]} />
            <stop offset="100%" stopColor={a.colors[2]} />
          </linearGradient>
        ))}
      </defs>
      <rect width={WIDTH} height={HEIGHT} fill="#fff" />

      {arrows.map((a, i) => (
        <polygon
          key={"arrow" + i}
          fill={`url(#arrowGrad${i})`}
          points={[
            [a.x0, a.cy - 23.5],
            [a.xh, a.cy - 23.5],
            [a.xh, a.cy - 46.5],
            [a.tip, a.cy],
            [a.xh, a.cy + 46.5],
            [a.xh, a.cy + 23.5],
            [a.x0, a.cy + 23.5],
          ]
            .map(p => p.join(","))
            .join(" ")}
        />
      ))}

      {panels.map((p, i) => (
        <Panel key={i} cfg={p} showXLabels={i === panels.length - 1} />
      ))}

      <text
        x={936}
        y={114}
        textAnchor="middle"
        fontFamily={FONT}
        fontWeight="bold"
        fontSize={59}
      >
        FeNi NPs in dried acetone and acetone (colloids)
      </text>

      <text textAnchor="middle" fontFamily={FONT} fontWeight="bold" fontSize={52}>
        <tspan x={1909} y={120}>Total</tspan>
        <tspan x={1909} y={183}>Oxides</tspan>
        <tspan x={1909} y={247}>Fraction</tspan>
      </text>

      {oxideFractions.map((t, i) => (
        <text key={t + i} x={1922} y={pctY[i]} textAnchor="middle" fontFamily={FONT} fontSize={84}>
          {t}
        </text>
      ))}

      <text x={932} y={1946} textAnchor="middle" fontFamily={FONT} fontSize={68}>
        Velocity (mm/s)
      </text>
      <text
        transform="translate(104,1026) rotate(-90)"
        textAnchor="middle"
        fontFamily={FONT}
        fontSize={68}
      >
        Relative absorption (%)
      </text>
    </svg>
  );
}
